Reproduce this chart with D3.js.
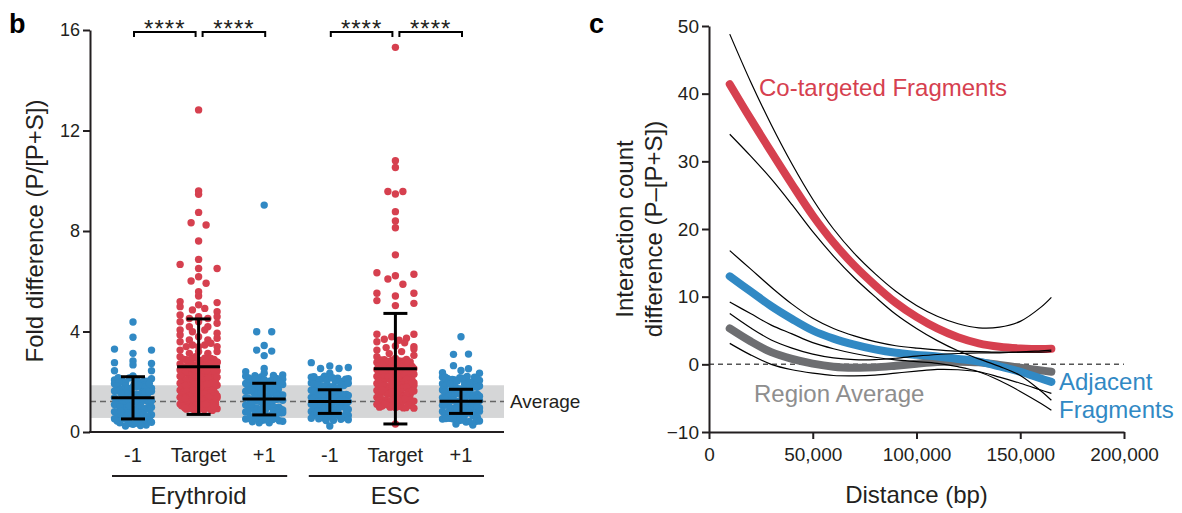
<!DOCTYPE html>
<html>
<head>
<meta charset="utf-8">
<script src="https://cdn.jsdelivr.net/npm/d3@7"></script>
<style>
  html, body { margin: 0; padding: 0; background: #fff; }
  svg { display: block; }
  text { font-family: "Liberation Sans", Arial, Helvetica, sans-serif; fill: #231f20; }
</style>
</head>
<body>
<svg id="fig" width="1182" height="513"></svg>
<script>
// ---------------- Panel b: fold difference per fragment class ----------------
const groupKeys   = ["ery-1", "eryT", "ery+1", "esc-1", "escT", "esc+1"];
const groupLabels = ["-1", "Target", "+1", "-1", "Target", "+1"];
const groupKinds  = ["flank", "target", "flank", "flank", "target", "flank"];
const cellTypes   = ["Erythroid", "ESC"];
const foldTicks   = [0, 4, 8, 12, 16];

const eryMinus1 = [4.38, 3.77, 3.30, 3.26, 3.13, 2.83, 2.76, 2.73, 2.67, 2.44, 2.44, 2.23, 2.07,
  2.18, 2.12, 2.05, 1.98, 2.15, 1.92, 1.88, 2.02, 1.84, 1.79, 1.95, 1.73, 1.68, 1.81, 1.63, 1.58,
  1.71, 1.55, 1.49, 1.66, 1.45, 1.41, 1.52, 1.37, 1.33, 1.47, 1.29, 1.25, 1.39, 1.21, 1.17, 1.31,
  1.13, 1.09, 1.23, 1.05, 1.01, 1.15, 0.97, 0.93, 1.07, 0.89, 0.85, 0.99, 0.81, 0.77, 0.91, 0.73,
  0.69, 0.83, 0.65, 0.61, 0.75, 0.57, 0.53, 0.67, 0.49, 0.45, 0.59, 0.41, 0.37, 0.31, 0.24, 0.28,
  0.26, 1.62, 1.11, 0.94, 1.36, 1.74, 0.72, 1.27, 1.44, 0.86, 1.19,
  2.16, 2.09, 1.97, 1.90, 1.83, 1.77, 1.70, 1.64, 1.57, 1.50, 1.43, 1.38, 1.32, 1.26, 1.20, 1.14,
  1.08, 1.02, 0.96, 0.90, 0.84, 0.78, 0.71, 0.66, 0.60, 0.55, 0.50, 0.44, 0.39, 0.34, 2.03, 1.86,
  1.69, 1.53, 1.35, 1.18, 1.00, 0.82, 0.63, 0.47, 1.93, 1.60, 1.24, 0.88, 0.52, 1.76, 1.41, 1.05,
  0.70, 0.35];

const eryTarget = [12.82, 9.59, 9.46, 8.74, 8.33, 8.24, 7.60, 6.87, 6.67, 6.51, 6.51, 6.18, 6.01,
  5.92, 5.58, 5.41, 5.19, 5.15, 5.06,
  4.99, 4.92, 4.86, 4.79, 4.66, 4.59, 4.59, 4.52, 4.52, 4.39, 4.39, 4.33, 4.19, 4.19, 4.06, 4.06,
  3.99, 3.93, 3.86, 3.79, 3.73, 3.66, 3.66, 3.59, 3.53, 3.46, 3.46, 3.40, 3.40, 3.40, 3.26, 3.20,
  3.20, 3.13, 3.13, 3.00, 3.00,
  2.93, 2.88, 2.71, 2.84, 2.66, 2.79, 2.57, 2.92, 2.62, 2.75, 2.53, 2.47, 2.69, 2.41, 2.58, 2.36,
  2.50, 2.29, 2.44, 2.22, 2.39, 2.17, 2.33, 2.11, 2.26, 2.05, 2.19, 1.98, 2.14, 1.94, 2.08, 1.87,
  2.01, 1.82, 1.96, 1.76, 1.90, 1.71, 1.85, 1.66, 1.79, 1.59, 1.73, 1.54, 1.68, 1.49, 1.62, 1.43,
  1.57, 1.38, 1.51, 1.33, 1.46, 1.27, 1.41, 1.22, 1.35, 1.16, 1.30, 1.11, 1.24, 1.06, 1.19, 1.01,
  1.13, 0.97, 1.08, 0.93, 1.03, 0.89, 0.99, 0.86, 0.95, 0.91, 2.63, 2.24, 1.88, 1.52, 1.17, 2.81,
  2.46, 2.09, 1.74, 1.39, 1.05, 2.35, 1.97, 1.61, 1.26, 0.88,
  2.90, 2.86, 2.78, 2.73, 2.67, 2.60, 2.55, 2.49, 2.43, 2.38, 2.31, 2.25, 2.20, 2.15, 2.07, 2.03,
  1.99, 1.92, 1.86, 1.80, 1.75, 1.69, 1.64, 1.58, 1.53, 1.47, 1.42, 1.36, 1.31, 1.25, 1.20, 1.14,
  1.09, 1.04, 0.98, 0.94, 0.90, 0.87, 2.89, 2.68, 2.45, 2.21, 1.95, 1.70, 1.45, 1.21, 0.96, 2.77,
  2.54, 2.32, 2.06, 1.83, 1.56, 1.34, 1.10, 2.84, 2.59, 2.37, 2.12, 1.89, 1.63, 1.40, 1.15, 0.92,
  2.70, 2.48, 2.23, 2.00, 1.77, 1.50, 1.28, 1.02, 2.94, 2.64, 2.40, 2.18, 1.93, 1.67, 1.44, 1.18];

const eryPlus1 = [9.03, 3.99, 3.99, 3.44, 3.26, 3.22, 3.04, 2.53, 2.40, 2.34, 2.22,
  2.27, 2.19, 2.13, 2.24, 2.06, 1.99, 2.10, 1.93, 1.86, 2.02, 1.81, 1.74, 1.95, 1.69, 1.62, 1.83,
  1.57, 1.51, 1.76, 1.46, 1.40, 1.64, 1.35, 1.29, 1.53, 1.24, 1.18, 1.42, 1.13, 1.07, 1.31, 1.02,
  0.96, 1.20, 0.91, 0.85, 1.09, 0.80, 0.74, 0.98, 0.69, 0.63, 0.87, 0.58, 0.52, 0.76, 0.47, 0.45,
  0.65, 0.41, 0.37, 0.37, 0.55, 1.48, 1.15, 0.83, 1.72, 1.37, 1.04, 0.71, 1.89, 1.59, 1.26, 0.93,
  0.61, 2.16, 1.44, 0.99, 1.67, 1.22,
  2.25, 2.15, 2.08, 1.97, 1.90, 1.84, 1.78, 1.71, 1.65, 1.59, 1.53, 1.47, 1.41, 1.36, 1.30, 1.23,
  1.17, 1.11, 1.05, 1.00, 0.94, 0.88, 0.82, 0.77, 0.71, 0.66, 0.60, 0.54, 0.49, 0.43, 2.11, 1.88,
  1.66, 1.44, 1.21, 0.99, 0.77, 0.55, 2.03, 1.79, 1.56, 1.33, 1.10, 0.86, 0.64, 1.94, 1.70, 1.27,
  0.89, 0.50];

const escMinus1 = [2.76, 2.63, 2.57, 2.53, 2.53, 2.34, 2.18, 2.10,
  2.22, 2.14, 2.07, 2.19, 2.01, 1.95, 2.11, 1.89, 1.83, 2.04, 1.78, 1.72, 1.92, 1.66, 1.61, 1.85,
  1.55, 1.49, 1.75, 1.44, 1.38, 1.63, 1.33, 1.27, 1.52, 1.21, 1.16, 1.41, 1.10, 1.04, 1.30, 0.99,
  0.93, 1.19, 0.88, 0.82, 1.07, 0.77, 0.71, 0.96, 0.66, 0.60, 0.85, 0.55, 0.49, 0.74, 0.46, 0.63,
  1.47, 1.13, 0.79, 1.69, 1.35, 1.01, 0.68, 1.58, 1.24, 0.90, 0.57, 1.80, 1.46, 1.12, 0.24,
  2.20, 2.12, 2.05, 1.98, 1.91, 1.85, 1.79, 1.73, 1.67, 1.62, 1.56, 1.50, 1.45, 1.39, 1.34, 1.28,
  1.23, 1.17, 1.11, 1.06, 1.00, 0.95, 0.89, 0.84, 0.78, 0.73, 0.67, 0.62, 0.56, 0.51, 2.08, 1.87,
  1.64, 1.42, 1.20, 0.98, 0.76, 0.53, 2.16, 1.94, 1.71, 1.48, 1.26, 1.03, 0.81, 0.58, 1.59, 1.15,
  0.70, 0.47];

const escTarget = [15.31, 10.80, 10.53, 9.57, 9.57, 9.47, 8.77, 8.40, 8.13, 7.05, 6.34, 6.28, 6.22,
  6.09, 5.88, 5.52, 5.52, 5.41, 5.23, 5.12, 5.03,
  3.89, 3.89, 3.79, 3.73, 3.69, 3.59, 3.42, 3.40, 3.36, 3.26, 3.20, 3.00, 2.93, 3.55, 3.12, 3.65,
  3.30, 3.05,
  2.88, 2.82, 2.77, 2.85, 2.71, 2.66, 2.79, 2.60, 2.55, 2.74, 2.49, 2.44, 2.63, 2.38, 2.33, 2.57,
  2.27, 2.21, 2.46, 2.16, 2.10, 2.35, 2.04, 1.99, 2.24, 1.93, 1.88, 2.13, 1.82, 1.77, 2.02, 1.71,
  1.65, 1.91, 1.60, 1.54, 1.80, 1.49, 1.43, 1.69, 1.38, 1.32, 1.58, 1.27, 1.21, 1.47, 1.16, 1.10,
  1.36, 1.05, 0.99, 1.25, 0.96, 1.14, 1.03, 2.52, 2.19, 1.86, 1.52, 1.19, 2.68, 2.30, 1.96, 1.63,
  1.29, 0.98, 2.41, 2.07, 1.74, 1.40, 1.08, 2.59, 1.85, 1.12, 0.32,
  2.87, 2.83, 2.75, 2.69, 2.64, 2.58, 2.52, 2.47, 2.41, 2.36, 2.30, 2.25, 2.19, 2.14, 2.08, 2.03,
  1.97, 1.91, 1.86, 1.80, 1.75, 1.69, 1.64, 1.58, 1.53, 1.47, 1.41, 1.36, 1.30, 1.25, 1.19, 1.14,
  1.08, 1.03, 0.99, 0.95, 2.81, 2.61, 2.39, 2.17, 1.95, 1.72, 1.50, 1.28, 1.06, 2.73, 2.50, 2.28,
  2.06, 1.84, 1.62, 1.39, 1.17, 0.97, 2.66, 2.43, 2.22, 2.00, 1.78, 1.56, 1.33, 1.11, 2.89, 2.56,
  2.33, 2.11, 1.89, 1.67, 1.45, 1.22, 1.01, 2.78, 2.45, 2.01, 1.57, 1.23];

const escPlus1 = [3.79, 3.09, 3.10, 2.64, 2.36, 2.34, 2.18, 2.18, 2.07, 2.45, 2.52,
  2.21, 2.13, 2.05, 2.16, 1.99, 1.92, 2.09, 1.86, 1.80, 2.01, 1.74, 1.67, 1.95, 1.61, 1.55, 1.83,
  1.49, 1.43, 1.71, 1.37, 1.31, 1.58, 1.25, 1.19, 1.46, 1.13, 1.06, 1.34, 1.00, 0.94, 1.22, 0.88,
  0.82, 1.10, 0.76, 0.70, 0.97, 0.64, 0.58, 0.85, 0.52, 0.46, 0.73, 0.43, 0.61, 1.52, 1.16, 0.79,
  1.77, 1.40, 1.03, 0.67, 1.64, 1.28, 0.91, 0.55, 1.89, 1.47, 1.08, 0.40, 0.32, 0.28,
  2.19, 2.11, 2.03, 1.96, 1.90, 1.84, 1.78, 1.72, 1.66, 1.60, 1.54, 1.48, 1.42, 1.36, 1.30, 1.24,
  1.18, 1.12, 1.06, 1.01, 0.95, 0.89, 0.83, 0.77, 0.72, 0.66, 0.60, 0.54, 0.48, 0.44, 2.07, 1.85,
  1.63, 1.41, 1.19, 0.97, 0.75, 0.53, 2.14, 1.92, 1.70, 1.47, 1.25, 1.03, 0.81, 0.59, 1.55, 1.14,
  0.69, 0.42];

const groupValues = [eryMinus1, eryTarget, eryPlus1, escMinus1, escTarget, escPlus1];
const groupMeans  = [1.36, 2.60, 1.31, 1.21, 2.52, 1.22];
const groupSDs    = [0.84, 1.90, 0.63, 0.47, 2.20, 0.48];
const regionAverage = 1.21;
const regionAverageSD = 0.65;
const significance = ["****", "****", "****", "****"];

// ---------------- Panel c: interaction count difference vs distance ----------------
const distances = [10000, 20000, 30000, 40000, 50000, 60000, 70000, 80000, 90000, 100000,
  110000, 120000, 130000, 140000, 150000, 160000, 165000];
const coTargetedFit   = [41.4, 36.3, 31.4, 26.6, 22.0, 18.0, 14.6, 11.7, 9.1, 7.0, 5.3, 4.0, 3.1, 2.6, 2.35, 2.25, 2.3];
const coTargetedUpper = [48.8, 41.8, 35.4, 29.6, 24.4, 20.0, 16.4, 13.4, 10.8, 8.7, 7.1, 6.0, 5.4, 5.5, 6.35, 8.45, 9.9];
const coTargetedLower = [34.0, 30.8, 27.4, 23.6, 19.6, 16.0, 12.8, 10.0, 7.4, 5.3, 3.5, 2.0, 0.8, -0.3, -1.65, -3.95, -5.3];
const adjacentFit     = [13.0, 10.8, 8.6, 6.7, 5.0, 3.8, 2.9, 2.2, 1.7, 1.4, 1.15, 0.8, 0.4, -0.3, -1.1, -2.1, -2.6];
const adjacentUpper   = [16.8, 14.1, 11.4, 8.9, 6.8, 5.3, 4.2, 3.35, 2.75, 2.4, 2.15, 1.95, 1.9, 1.8, 1.8, 1.8, 1.9];
const adjacentLower   = [9.2, 7.5, 5.8, 4.5, 3.2, 2.3, 1.6, 1.05, 0.65, 0.4, 0.15, -0.35, -1.1, -2.4, -4.0, -5.8, -6.8];
const regionFit       = [5.3, 3.4, 1.8, 0.8, 0.1, -0.35, -0.5, -0.45, -0.2, 0.1, 0.35, 0.4, 0.3, -0.1, -0.5, -0.9, -1.1];
const regionUpper     = [7.5, 5.4, 3.6, 2.4, 1.5, 0.95, 0.7, 0.7, 0.9, 1.2, 1.45, 1.6, 1.7, 1.7, 1.8, 2.0, 2.1];
const regionLower     = [3.1, 1.4, 0.0, -0.8, -1.3, -1.65, -1.7, -1.6, -1.3, -1.0, -0.75, -0.8, -1.1, -1.9, -2.8, -3.8, -4.3];
const distanceTicks = [0, 50000, 100000, 150000, 200000];
const countTicks = [-10, 0, 10, 20, 30, 40, 50];

// ---------------- styling ----------------
const RED = "#d6404f", BLUE = "#3189c4", GREY = "#6d6e71", INK = "#231f20";

const svg = d3.select("#fig");

/* ===== panel b ===== */
const frameB = { left: 90, right: 504, top: 30, bottom: 432 };
const yB = d3.scaleLinear().domain([0, 16]).range([frameB.bottom, frameB.top]);
const xB = d3.scalePoint().domain(groupKeys).range([133, 461]);

const gB = svg.append("g");

// average band and dashed average line
gB.append("rect")
  .attr("x", frameB.left).attr("width", frameB.right - frameB.left)
  .attr("y", yB(regionAverage + regionAverageSD))
  .attr("height", yB(regionAverage - regionAverageSD) - yB(regionAverage + regionAverageSD))
  .attr("fill", "#d5d6d7");
gB.append("line")
  .attr("x1", frameB.left).attr("x2", frameB.right)
  .attr("y1", yB(regionAverage)).attr("y2", yB(regionAverage))
  .attr("stroke", "#666").attr("stroke-width", 1.5).attr("stroke-dasharray", "6,4");
gB.append("text").text("Average")
  .attr("x", frameB.right + 6).attr("y", yB(regionAverage) + 6)
  .attr("font-size", 19);

// column scatter: points sharing a row are spread across the column width
const dotR = 3.7, halfWidth = 18.5;
const rowStep = yB.invert(yB(0) - 7) - yB.invert(yB(0));
function spread(values) {
  const rows = d3.group(values.map((v, i) => ({ v, i })), d => Math.floor(d.v / rowStep));
  const out = [];
  for (const pts of rows.values()) {
    const n = pts.length;
    let slots;
    if (n === 1) slots = [0];
    else if (n === 2) slots = [-7.5, 7.5];
    else slots = d3.range(n).map(k => -halfWidth + 2 * halfWidth * k / (n - 1));
    const order = d3.range(n).sort((a, b) => ((a * 0.618) % 1) - ((b * 0.618) % 1));
    pts.forEach((p, k) => out.push({ v: p.v, dx: slots[order[k]] }));
  }
  return out;
}

groupKeys.forEach((key, gi) => {
  const color = groupKinds[gi] === "target" ? RED : BLUE;
  gB.append("g").selectAll("circle")
    .data(spread(groupValues[gi]))
    .join("circle")
    .attr("cx", d => xB(key) + d.dx)
    .attr("cy", d => yB(d.v))
    .attr("r", dotR)
    .attr("fill", color);
});

// mean ± SD bars
groupKeys.forEach((key, gi) => {
  const cx = xB(key), m = groupMeans[gi], s = groupSDs[gi];
  const eb = gB.append("g").attr("stroke", "#000").attr("stroke-width", 3);
  eb.append("line").attr("x1", cx).attr("x2", cx).attr("y1", yB(m - s)).attr("y2", yB(m + s));
  eb.append("line").attr("x1", cx - 21.5).attr("x2", cx + 21.5).attr("y1", yB(m)).attr("y2", yB(m));
  [m - s, m + s].forEach(v => eb.append("line")
    .attr("x1", cx - 12).attr("x2", cx + 12).attr("y1", yB(v)).attr("y2", yB(v)));
});

// axes
const axB = gB.append("g").attr("transform", `translate(${frameB.left},0)`)
  .call(d3.axisLeft(yB).tickValues(foldTicks).tickSize(7).tickSizeOuter(0).tickPadding(3));
axB.select(".domain").attr("stroke", INK).attr("stroke-width", 2);
axB.selectAll(".tick line").attr("stroke", INK).attr("stroke-width", 2);
axB.selectAll(".tick text").attr("font-size", 18).attr("fill", INK)
  .attr("font-family", "Liberation Sans, Arial, sans-serif");
gB.append("line")
  .attr("x1", frameB.left - 1).attr("x2", frameB.right)
  .attr("y1", frameB.bottom).attr("y2", frameB.bottom)
  .attr("stroke", INK).attr("stroke-width", 2);

// category labels
groupKeys.forEach((key, gi) => {
  gB.append("text").text(groupLabels[gi])
    .attr("x", xB(key)).attr("y", 462)
    .attr("text-anchor", "middle").attr("font-size", 20);
});
// cell-type labels with underline
cellTypes.forEach((ct, ci) => {
  const k0 = groupKeys[ci * 3], k1 = groupKeys[ci * 3 + 1], k2 = groupKeys[ci * 3 + 2];
  gB.append("line")
    .attr("x1", xB(k0) - 21).attr("x2", xB(k2) + 23)
    .attr("y1", 476).attr("y2", 476)
    .attr("stroke", INK).attr("stroke-width", 2);
  gB.append("text").text(ct)
    .attr("x", xB(k1)).attr("y", 504)
    .attr("text-anchor", "middle").attr("font-size", 24);
});

// significance brackets
const bracketPairs = [["ery-1", "eryT", -1], ["eryT", "ery+1", 1], ["esc-1", "escT", -1], ["escT", "esc+1", 1]];
bracketPairs.forEach(([a, b, side], i) => {
  const x0 = side < 0 ? xB(a) + 1 : xB(a) + 4;
  const x1 = side < 0 ? xB(b) - 3 : xB(b) + 1;
  const yb = 32;
  gB.append("path")
    .attr("d", `M${x0},${yb + 5}V${yb}H${x1}V${yb + 5}`)
    .attr("fill", "none").attr("stroke", "#000").attr("stroke-width", 2);
  gB.append("text").text(significance[i])
    .attr("x", (x0 + x1) / 2).attr("y", 37)
    .attr("text-anchor", "middle").attr("font-size", 24)
    .attr("letter-spacing", 1);
});

// y title and panel letter
gB.append("text").text("Fold difference (P/[P+S])")
  .attr("transform", `translate(43,${(frameB.top + frameB.bottom) / 2}) rotate(-90)`)
  .attr("text-anchor", "middle").attr("font-size", 24);
svg.append("text").text("b").attr("x", 9).attr("y", 33)
  .attr("font-size", 27).attr("font-weight", "bold").style("fill", "#000");

/* ===== panel c ===== */
const frameC = { left: 709, right: 1124, top: 26, bottom: 432 };
const xC = d3.scaleLinear().domain([0, 200000]).range([frameC.left, frameC.right]);
const yC = d3.scaleLinear().domain([-10, 50]).range([frameC.bottom, frameC.top]);
const gC = svg.append("g");

gC.append("line")
  .attr("x1", xC(0)).attr("x2", xC(200000)).attr("y1", yC(0)).attr("y2", yC(0))
  .attr("stroke", "#555").attr("stroke-width", 1.5).attr("stroke-dasharray", "5,4");

const curve = d3.line()
  .x(d => xC(d[0])).y(d => yC(d[1]))
  .curve(d3.curveCatmullRom.alpha(0.5));
const series = (ys) => distances.map((x, i) => [x, ys[i]]);

[[regionFit, GREY], [adjacentFit, BLUE], [coTargetedFit, RED]].forEach(([ys, color]) => {
  gC.append("path").attr("d", curve(series(ys)))
    .attr("fill", "none").attr("stroke", color)
    .attr("stroke-width", 8).attr("stroke-linecap", "round");
});
[coTargetedUpper, coTargetedLower, adjacentUpper, adjacentLower, regionUpper, regionLower].forEach(ys => {
  gC.append("path").attr("d", curve(series(ys)))
    .attr("fill", "none").attr("stroke", "#000").attr("stroke-width", 1.2);
});

const axCx = gC.append("g").attr("transform", `translate(0,${frameC.bottom})`)
  .call(d3.axisBottom(xC).tickValues(distanceTicks).tickFormat(d3.format(","))
    .tickSize(7).tickSizeOuter(0).tickPadding(9));
const axCy = gC.append("g").attr("transform", `translate(${frameC.left},0)`)
  .call(d3.axisLeft(yC).tickValues(countTicks).tickSize(7).tickSizeOuter(0).tickPadding(3));
[axCx, axCy].forEach(ax => {
  ax.select(".domain").attr("stroke", INK).attr("stroke-width", 2);
  ax.selectAll(".tick line").attr("stroke", INK).attr("stroke-width", 2);
  ax.selectAll(".tick text").attr("font-size", 19).attr("fill", INK)
    .attr("font-family", "Liberation Sans, Arial, sans-serif");
});

gC.append("text").text("Distance (bp)")
  .attr("x", (frameC.left + frameC.right) / 2).attr("y", 503)
  .attr("text-anchor", "middle").attr("font-size", 24);
const yTitle = gC.append("text")
  .attr("transform", `translate(633,${(frameC.top + frameC.bottom) / 2}) rotate(-90)`)
  .attr("text-anchor", "middle").attr("font-size", 24);
yTitle.append("tspan").attr("x", 0).attr("dy", 0).text("Interaction count");
yTitle.append("tspan").attr("x", 0).attr("dy", 29).text("difference (P\u2013[P+S])");

gC.append("text").text("Co-targeted Fragments")
  .attr("x", 759).attr("y", 96).attr("font-size", 24).style("fill", RED);
gC.append("text").text("Region Average")
  .attr("x", 754).attr("y", 402).attr("font-size", 24).style("fill", "#8e8e8e");
const adjLabel = gC.append("text").attr("font-size", 24).style("fill", BLUE);
adjLabel.append("tspan").attr("x", 1059).attr("y", 390).text("Adjacent");
adjLabel.append("tspan").attr("x", 1059).attr("y", 418).text("Fragments");

svg.append("text").text("c").attr("x", 589).attr("y", 33)
  .attr("font-size", 27).attr("font-weight", "bold").style("fill", "#000");
</script>
</body>
</html>
